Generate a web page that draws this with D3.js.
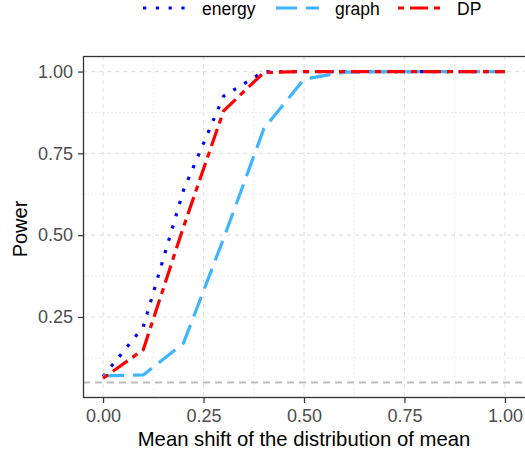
<!DOCTYPE html>
<html><head><meta charset="utf-8">
<script src="https://cdn.jsdelivr.net/npm/d3@7"></script>
<style>html,body{margin:0;padding:0;background:#fff;} svg{display:block;font-family:"Liberation Sans",Arial,sans-serif;}</style>
</head><body>
<script>
const shifts = [0, 0.1, 0.2, 0.3, 0.4, 0.5, 0.6, 0.7, 0.8, 0.9, 1.0];
const energy = [0.068, 0.22, 0.637, 0.925, 1, 1, 1, 1, 1, 1, 1];
const graph  = [0.07, 0.073, 0.17, 0.49, 0.825, 0.977, 0.998, 1, 1, 1, 1];
const dp     = [0.063, 0.15, 0.525, 0.88, 0.997, 1, 1, 1, 1, 1, 1];
const seriesNames = ["energy", "graph", "DP"];
const xTicks = [0, 0.25, 0.5, 0.75, 1.0];
const yTicks = [0.25, 0.5, 0.75, 1.0];
const alphaLevel = 0.05;

const W = 525, H = 454;
const P = {left: 83, top: 56, right: 525, bottom: 398};
const svg = d3.select("body").append("svg").attr("width", W).attr("height", H);

const x = d3.scaleLinear().domain([-0.05, 1.05]).range([P.left, P.right]);
const y = d3.scaleLinear().domain([0.0025, 1.0475]).range([P.bottom, P.top]);

const g = svg.append("g");
// minor grid
const xMinor = [0.125, 0.375, 0.625, 0.875];
const yMinor = [0.125, 0.375, 0.625, 0.875];
g.selectAll(".vmin").data(xMinor).join("line")
  .attr("x1", d => x(d)).attr("x2", d => x(d)).attr("y1", P.top).attr("y2", P.bottom)
  .attr("stroke", "#ebebeb").attr("stroke-width", 0.9).attr("stroke-dasharray", "2,2");
g.selectAll(".hmin").data(yMinor).join("line")
  .attr("y1", d => y(d)).attr("y2", d => y(d)).attr("x1", P.left).attr("x2", P.right)
  .attr("stroke", "#ebebeb").attr("stroke-width", 0.9).attr("stroke-dasharray", "2,2");
// major grid
g.selectAll(".vmaj").data(xTicks).join("line")
  .attr("x1", d => x(d)).attr("x2", d => x(d)).attr("y1", P.top).attr("y2", P.bottom)
  .attr("stroke", "#e3e3e3").attr("stroke-width", 1.2).attr("stroke-dasharray", "4,4");
g.selectAll(".hmaj").data(yTicks).join("line")
  .attr("y1", d => y(d)).attr("y2", d => y(d)).attr("x1", P.left).attr("x2", P.right)
  .attr("stroke", "#e3e3e3").attr("stroke-width", 1.2).attr("stroke-dasharray", "4,4");

// reference line
g.append("line").attr("x1", P.left).attr("x2", P.right)
  .attr("y1", y(alphaLevel)).attr("y2", y(alphaLevel))
  .attr("stroke", "#bdbdbd").attr("stroke-width", 2).attr("stroke-dasharray", "7,5");

const styles = {
  energy: {color: "#0000ff", dash: "3.2,9.6"},
  graph:  {color: "#3fb5ff", dash: "21,9"},
  DP:     {color: "#ff0000", dash: "6,6,18,6"}
};
const data = {energy, graph, DP: dp};
const line = d3.line().x((d, i) => x(shifts[i])).y(d => y(d));
seriesNames.forEach(n => {
  g.append("path").datum(data[n]).attr("d", line)
    .attr("fill", "none").attr("stroke", styles[n].color).attr("stroke-width", 3.2)
    .attr("stroke-dasharray", styles[n].dash).attr("stroke-linejoin", "round");
});

// panel border
svg.append("rect").attr("x", P.left + 0.5).attr("y", P.top + 0.5)
  .attr("width", P.right - P.left + 5).attr("height", P.bottom - P.top - 1)
  .attr("fill", "none").attr("stroke", "#333").attr("stroke-width", 1.3);

// axes
const xAxis = d3.axisBottom(x).tickValues(xTicks).tickFormat(d3.format(".2f")).tickSize(5).tickPadding(6);
const yAxis = d3.axisLeft(y).tickValues(yTicks).tickFormat(d3.format(".2f")).tickSize(5).tickPadding(5);
const ax = svg.append("g").attr("transform", `translate(0,${P.bottom})`).call(xAxis);
const ay = svg.append("g").attr("transform", `translate(${P.left},0)`).call(yAxis);
[ax, ay].forEach(a => {
  a.select(".domain").remove();
  a.selectAll(".tick line").attr("stroke", "#333").attr("stroke-width", 1.2);
  a.selectAll(".tick text").attr("fill", "#4d4d4d").style("font-size", "18px")
    .style("font-family", '"Liberation Sans",Arial,sans-serif');
});

// axis titles
svg.append("text").attr("x", (P.left + P.right) / 2).attr("y", 445.5)
  .attr("text-anchor", "middle").style("font-size", "20.3px").attr("fill", "#000")
  .text("Mean shift of the distribution of mean");
svg.append("text").attr("transform", `translate(27,${(P.top + P.bottom) / 2 + 2}) rotate(-90)`)
  .attr("text-anchor", "middle").style("font-size", "20px").attr("fill", "#000")
  .text("Power");

// legend
const legendItems = [
  {name: "energy", x0: 143},
  {name: "graph", x0: 276},
  {name: "DP", x0: 398}
];
const lg = svg.append("g");
legendItems.forEach(it => {
  lg.append("line").attr("x1", it.x0).attr("x2", it.x0 + 43).attr("y1", 8).attr("y2", 8)
    .attr("stroke", styles[it.name].color).attr("stroke-width", 3.2)
    .attr("stroke-dasharray", styles[it.name].dash);
  lg.append("text").attr("x", it.x0 + 59).attr("y", 14.5).style("font-size", "17.5px")
    .attr("fill", "#000").text(it.name);
});
</script>
</body></html>
